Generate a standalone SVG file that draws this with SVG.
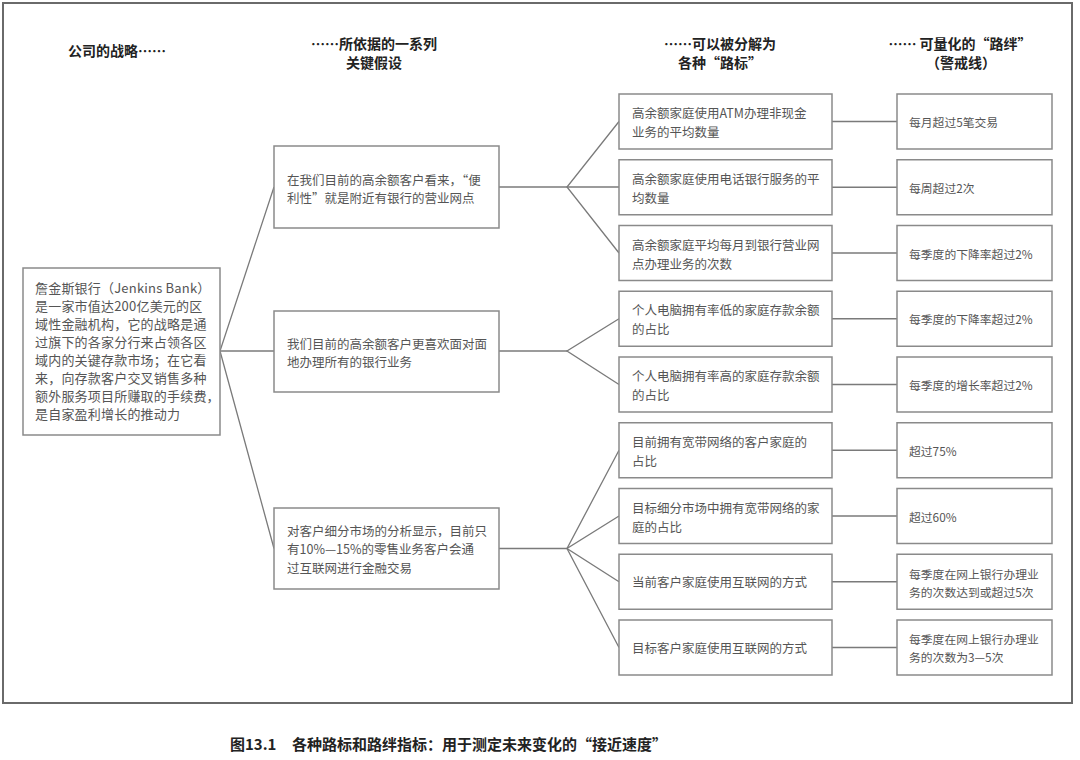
<svg xmlns="http://www.w3.org/2000/svg" width="1080" height="760" viewBox="0 0 1080 760">
<style>
.frame{fill:none;stroke:#6a6a6a;stroke-width:2}
.box{fill:#fff;stroke:#8a8a8a;stroke-width:1.5}
.con{fill:none;stroke:#7a7a7a;stroke-width:1.3}
text{font-family:"Noto Sans CJK SC","Liberation Sans",sans-serif;dominant-baseline:central}
.hd{font-size:14px;font-weight:bold;fill:#222;text-anchor:middle}
.lt{font-size:13px;fill:#555;letter-spacing:0.2px}
.mt{font-size:12.5px;fill:#555}
.it{font-size:12.5px;fill:#555}
.tt{font-size:11.8px;fill:#555}
.cap{font-size:15px;font-weight:bold;fill:#222}
</style>
<rect width="1080" height="760" fill="#fff"/>
<rect class="frame" x="3" y="3" width="1069" height="700"/>

<g id="headers">
<text class="hd" x="117" y="50">公司的战略……</text>
<text class="hd" x="374" y="43">……所依据的一系列</text>
<text class="hd" x="374" y="62">关键假设</text>
<text class="hd" x="720" y="43">……可以被分解为</text>
<text class="hd" x="720" y="62">各种“路标”</text>
<text class="hd" x="960" y="43">…… 可量化的“路绊”</text>
<text class="hd" x="961" y="62">（警戒线）</text>
</g>

<g id="connectors">
<polyline class="con" points="274,187 220,351 274,548.5"/>
<line class="con" x1="220" y1="351" x2="274" y2="351"/>
<polyline class="con" points="499,187 567,187"/>
<polyline class="con" points="619,121.5 567,187 619,253"/>
<line class="con" x1="567" y1="187" x2="619" y2="187"/>
<polyline class="con" points="499,351 567,351"/>
<polyline class="con" points="619,318.75 567,351 619,384.5"/>
<polyline class="con" points="499,548.5 567,548.5"/>
<polyline class="con" points="619,450.25 567,548.5 619,647.5"/>
<polyline class="con" points="619,516 567,548.5 619,581.75"/>
<line class="con" x1="832" y1="121.5" x2="897" y2="121.5"/>
<line class="con" x1="832" y1="187.25" x2="897" y2="187.25"/>
<line class="con" x1="832" y1="253" x2="897" y2="253"/>
<line class="con" x1="832" y1="318.75" x2="897" y2="318.75"/>
<line class="con" x1="832" y1="384.5" x2="897" y2="384.5"/>
<line class="con" x1="832" y1="450.25" x2="897" y2="450.25"/>
<line class="con" x1="832" y1="516" x2="897" y2="516"/>
<line class="con" x1="832" y1="581.75" x2="897" y2="581.75"/>
<line class="con" x1="832" y1="647.5" x2="897" y2="647.5"/>
</g>

<g id="strategy">
<rect class="box" x="23" y="268" width="197" height="167"/>
<text class="lt" x="35" y="287">詹金斯银行（Jenkins Bank）</text>
<text class="lt" x="35" y="305">是一家市值达200亿美元的区</text>
<text class="lt" x="35" y="323">域性金融机构，它的战略是通</text>
<text class="lt" x="35" y="341">过旗下的各家分行来占领各区</text>
<text class="lt" x="35" y="359">域内的关键存款市场；在它看</text>
<text class="lt" x="35" y="377">来，向存款客户交叉销售多种</text>
<text class="lt" x="35" y="395">额外服务项目所赚取的手续费，</text>
<text class="lt" x="35" y="413">是自家盈利增长的推动力</text>
</g>

<g id="assumption1">
<rect class="box" x="274" y="146" width="225" height="82"/>
<text class="mt" x="287" y="179">在我们目前的高余额客户看来，“便</text>
<text class="mt" x="287" y="197">利性”就是附近有银行的营业网点</text>
</g>
<g id="assumption2">
<rect class="box" x="274" y="311" width="225" height="81"/>
<text class="mt" x="287" y="343">我们目前的高余额客户更喜欢面对面</text>
<text class="mt" x="287" y="361">地办理所有的银行业务</text>
</g>
<g id="assumption3">
<rect class="box" x="274" y="508" width="225" height="81"/>
<text class="mt" x="287" y="530">对客户细分市场的分析显示，目前只</text>
<text class="mt" x="287" y="548.5">有10%—15%的零售业务客户会通</text>
<text class="mt" x="287" y="567">过互联网进行金融交易</text>
</g>

<g id="sign1">
<rect class="box" x="619" y="94" width="213" height="55"/>
<text class="it" x="632" y="112">高余额家庭使用ATM办理非现金</text>
<text class="it" x="632" y="131">业务的平均数量</text>
</g>
<g id="sign2">
<rect class="box" x="619" y="159.75" width="213" height="55"/>
<text class="it" x="632" y="178">高余额家庭使用电话银行服务的平</text>
<text class="it" x="632" y="197">均数量</text>
</g>
<g id="sign3">
<rect class="box" x="619" y="225.5" width="213" height="55"/>
<text class="it" x="632" y="244">高余额家庭平均每月到银行营业网</text>
<text class="it" x="632" y="263">点办理业务的次数</text>
</g>
<g id="sign4">
<rect class="box" x="619" y="291.25" width="213" height="55"/>
<text class="it" x="632" y="309.5">个人电脑拥有率低的家庭存款余额</text>
<text class="it" x="632" y="328.5">的占比</text>
</g>
<g id="sign5">
<rect class="box" x="619" y="357" width="213" height="55"/>
<text class="it" x="632" y="375">个人电脑拥有率高的家庭存款余额</text>
<text class="it" x="632" y="394">的占比</text>
</g>
<g id="sign6">
<rect class="box" x="619" y="422.75" width="213" height="55"/>
<text class="it" x="632" y="441">目前拥有宽带网络的客户家庭的</text>
<text class="it" x="632" y="460">占比</text>
</g>
<g id="sign7">
<rect class="box" x="619" y="488.5" width="213" height="55"/>
<text class="it" x="632" y="507">目标细分市场中拥有宽带网络的家</text>
<text class="it" x="632" y="526">庭的占比</text>
</g>
<g id="sign8">
<rect class="box" x="619" y="554.25" width="213" height="55"/>
<text class="it" x="632" y="581.75">当前客户家庭使用互联网的方式</text>
</g>
<g id="sign9">
<rect class="box" x="619" y="620" width="213" height="55"/>
<text class="it" x="632" y="647.5">目标客户家庭使用互联网的方式</text>
</g>

<g id="trip1">
<rect class="box" x="897" y="94" width="155" height="55"/>
<text class="tt" x="909" y="121">每月超过5笔交易</text>
</g>
<g id="trip2">
<rect class="box" x="897" y="159.75" width="155" height="55"/>
<text class="tt" x="909" y="187">每周超过2次</text>
</g>
<g id="trip3">
<rect class="box" x="897" y="225.5" width="155" height="55"/>
<text class="tt" x="909" y="253">每季度的下降率超过2%</text>
</g>
<g id="trip4">
<rect class="box" x="897" y="291.25" width="155" height="55"/>
<text class="tt" x="909" y="318.75">每季度的下降率超过2%</text>
</g>
<g id="trip5">
<rect class="box" x="897" y="357" width="155" height="55"/>
<text class="tt" x="909" y="384.5">每季度的增长率超过2%</text>
</g>
<g id="trip6">
<rect class="box" x="897" y="422.75" width="155" height="55"/>
<text class="tt" x="909" y="450">超过75%</text>
</g>
<g id="trip7">
<rect class="box" x="897" y="488.5" width="155" height="55"/>
<text class="tt" x="909" y="516">超过60%</text>
</g>
<g id="trip8">
<rect class="box" x="897" y="554.25" width="155" height="55"/>
<text class="tt" x="909" y="573">每季度在网上银行办理业</text>
<text class="tt" x="909" y="591">务的次数达到或超过5次</text>
</g>
<g id="trip9">
<rect class="box" x="897" y="620" width="155" height="55"/>
<text class="tt" x="909" y="638.5">每季度在网上银行办理业</text>
<text class="tt" x="909" y="656.5">务的次数为3—5次</text>
</g>

<g id="caption">
<text class="cap" x="230" y="743">图13.1</text>
<text class="cap" x="292" y="743">各种路标和路绊指标：用于测定未来变化的“接近速度”</text>
</g>
</svg>
